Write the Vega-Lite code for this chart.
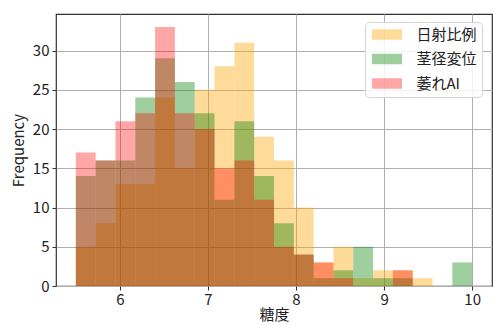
{
  "$schema": "https://vega.github.io/schema/vega-lite/v6.json",
  "width": 436,
  "height": 272,
  "autosize": {"type": "none"},
  "padding": {"left": 56, "top": 14, "right": 1, "bottom": 39},
  "background": "white",
  "config": {
    "font": "Noto Sans CJK JP",
    "view": {"stroke": "#333333", "strokeWidth": 1.2},
    "axis": {
      "domain": false,
      "grid": true,
      "gridColor": "#b0b0b0",
      "gridWidth": 1,
      "tickColor": "#333333",
      "tickSize": 4,
      "labelFontSize": 15,
      "labelColor": "#222222",
      "titleFontSize": 15,
      "titleFontWeight": "normal",
      "titleColor": "#222222",
      "labelFont": "Noto Sans CJK JP",
      "titleFont": "Noto Sans CJK JP"
    }
  },
  "data": {
    "values": [
      {"series": "日射比例", "start": 5.5, "end": 5.725, "count": 5},
      {"series": "日射比例", "start": 5.725, "end": 5.95, "count": 8},
      {"series": "日射比例", "start": 5.95, "end": 6.175, "count": 13},
      {"series": "日射比例", "start": 6.175, "end": 6.4, "count": 13},
      {"series": "日射比例", "start": 6.4, "end": 6.625, "count": 24},
      {"series": "日射比例", "start": 6.625, "end": 6.85, "count": 15},
      {"series": "日射比例", "start": 6.85, "end": 7.075, "count": 25},
      {"series": "日射比例", "start": 7.075, "end": 7.3, "count": 28},
      {"series": "日射比例", "start": 7.3, "end": 7.525, "count": 31},
      {"series": "日射比例", "start": 7.525, "end": 7.75, "count": 19},
      {"series": "日射比例", "start": 7.75, "end": 7.975, "count": 16},
      {"series": "日射比例", "start": 7.975, "end": 8.2, "count": 10},
      {"series": "日射比例", "start": 8.2, "end": 8.425, "count": 3},
      {"series": "日射比例", "start": 8.425, "end": 8.65, "count": 5},
      {"series": "日射比例", "start": 8.65, "end": 8.875, "count": 1},
      {"series": "日射比例", "start": 8.875, "end": 9.1, "count": 2},
      {"series": "日射比例", "start": 9.1, "end": 9.325, "count": 2},
      {"series": "日射比例", "start": 9.325, "end": 9.55, "count": 1},
      {"series": "茎径変位", "start": 5.5, "end": 5.725, "count": 14},
      {"series": "茎径変位", "start": 5.725, "end": 5.95, "count": 16},
      {"series": "茎径変位", "start": 5.95, "end": 6.175, "count": 16},
      {"series": "茎径変位", "start": 6.175, "end": 6.4, "count": 24},
      {"series": "茎径変位", "start": 6.4, "end": 6.625, "count": 29},
      {"series": "茎径変位", "start": 6.625, "end": 6.85, "count": 26},
      {"series": "茎径変位", "start": 6.85, "end": 7.075, "count": 22},
      {"series": "茎径変位", "start": 7.075, "end": 7.3, "count": 11},
      {"series": "茎径変位", "start": 7.3, "end": 7.525, "count": 21},
      {"series": "茎径変位", "start": 7.525, "end": 7.75, "count": 14},
      {"series": "茎径変位", "start": 7.75, "end": 7.975, "count": 8},
      {"series": "茎径変位", "start": 7.975, "end": 8.2, "count": 4},
      {"series": "茎径変位", "start": 8.2, "end": 8.425, "count": 1},
      {"series": "茎径変位", "start": 8.425, "end": 8.65, "count": 2},
      {"series": "茎径変位", "start": 8.65, "end": 8.875, "count": 5},
      {"series": "茎径変位", "start": 8.875, "end": 9.1, "count": 1},
      {"series": "茎径変位", "start": 9.1, "end": 9.325, "count": 1},
      {"series": "茎径変位", "start": 9.775, "end": 10.0, "count": 3},
      {"series": "萎れAI", "start": 5.5, "end": 5.725, "count": 17},
      {"series": "萎れAI", "start": 5.725, "end": 5.95, "count": 16},
      {"series": "萎れAI", "start": 5.95, "end": 6.175, "count": 21},
      {"series": "萎れAI", "start": 6.175, "end": 6.4, "count": 22},
      {"series": "萎れAI", "start": 6.4, "end": 6.625, "count": 33},
      {"series": "萎れAI", "start": 6.625, "end": 6.85, "count": 22},
      {"series": "萎れAI", "start": 6.85, "end": 7.075, "count": 20},
      {"series": "萎れAI", "start": 7.075, "end": 7.3, "count": 15},
      {"series": "萎れAI", "start": 7.3, "end": 7.525, "count": 16},
      {"series": "萎れAI", "start": 7.525, "end": 7.75, "count": 11},
      {"series": "萎れAI", "start": 7.75, "end": 7.975, "count": 5},
      {"series": "萎れAI", "start": 7.975, "end": 8.2, "count": 4},
      {"series": "萎れAI", "start": 8.2, "end": 8.425, "count": 3},
      {"series": "萎れAI", "start": 8.425, "end": 8.65, "count": 1},
      {"series": "萎れAI", "start": 9.1, "end": 9.325, "count": 2}
    ]
  },
  "mark": {"type": "bar", "strokeWidth": 0},
  "encoding": {
    "x": {
      "field": "start",
      "type": "quantitative",
      "title": "糖度",
      "scale": {"domain": [5.275, 10.225], "nice": false, "zero": false},
      "axis": {"values": [6, 7, 8, 9, 10], "labelPadding": 2, "titlePadding": 0}
    },
    "x2": {"field": "end"},
    "y": {
      "field": "count",
      "type": "quantitative",
      "stack": null,
      "title": "Frequency",
      "scale": {"domain": [0, 34.65], "nice": false},
      "axis": {"values": [0, 5, 10, 15, 20, 25, 30], "labelPadding": 3, "titlePadding": 6}
    },
    "y2": {"datum": 0},
    "color": {
      "field": "series",
      "type": "nominal",
      "title": null,
      "scale": {"domain": ["日射比例", "茎径変位", "萎れAI"], "range": ["#ffa500", "#008000", "#ff0000"]},
      "legend": {
        "orient": "none",
        "legendX": 309,
        "legendY": 8,
        "padding": 5,
        "fillColor": "rgba(255,255,255,0.85)",
        "strokeColor": "#d5d5d5",
        "cornerRadius": 4,
        "symbolType": "M-2,-0.7H2V0.7H-2Z",
        "symbolSize": 225,
        "symbolOffset": 9.5,
        "symbolStrokeWidth": 0,
        "symbolOpacity": 0.4,
        "labelFontSize": 15,
        "labelOffset": 22,
        "rowPadding": 8.5,
        "labelColor": "#222222"
      }
    },
    "opacity": {
      "field": "series",
      "type": "nominal",
      "legend": null,
      "scale": {"domain": ["日射比例", "茎径変位", "萎れAI"], "range": [0.4, 0.35, 0.3]}
    }
  }
}
